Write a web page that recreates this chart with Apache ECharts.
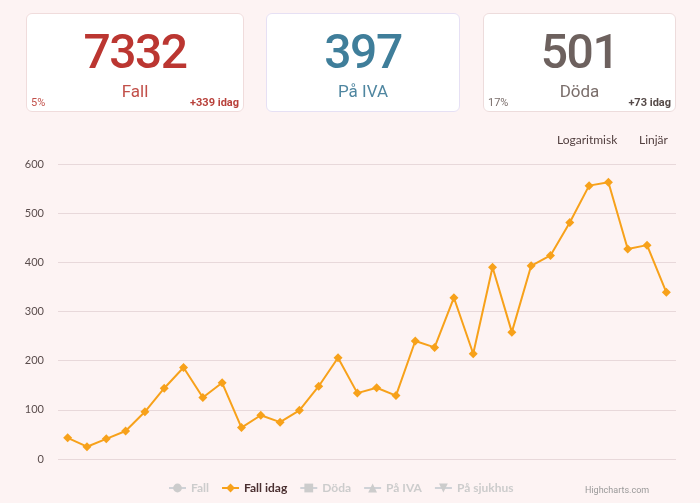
<!DOCTYPE html>
<html>
<head>
<meta charset="utf-8">
<script src="https://cdn.jsdelivr.net/npm/echarts@6/dist/echarts.min.js"></script>
<style>
  html, body { margin: 0; padding: 0; background: #fdf3f3; }
  body { width: 700px; height: 503px; position: relative; overflow: hidden; font-family: Roboto, "Noto Sans", sans-serif; }
  #chart { position: absolute; left: 0; top: 0; width: 700px; height: 503px; }
  .card { position: absolute; top: 13px; height: 99px; background: #fff; border: 1px solid #f0dede; border-radius: 6px; box-sizing: border-box; }
  .card .value { position: absolute; left: 0; right: 0; top: 10px; text-align: center; font-size: 48px; font-weight: 500; line-height: 56px; letter-spacing: -1.5px; }
  .card .label { position: absolute; left: 0; right: 0; top: 67px; text-align: center; font-size: 17px; line-height: 20px; }
  .card .pct { position: absolute; left: 4px; bottom: 2px; font-size: 11px; }
  .card .today { position: absolute; right: 4px; bottom: 2px; font-size: 11px; font-weight: bold; }
  .btn { position: absolute; top: 132px; font-size: 12px; font-family: Lato, "Open Sans", sans-serif; color: #523f3f; }
</style>
</head>
<body>
<div id="chart"></div>
<div id="cards"></div>
<span class="btn" style="left:557px">Logaritmisk</span>
<span class="btn" style="left:639px">Linjär</span>
<script>
const dates = [
  "03-10", "03-11", "03-12", "03-13", "03-14", "03-15", "03-16", "03-17",
  "03-18", "03-19", "03-20", "03-21", "03-22", "03-23", "03-24", "03-25",
  "03-26", "03-27", "03-28", "03-29", "03-30", "03-31", "04-01", "04-02",
  "04-03", "04-04", "04-05", "04-06", "04-07", "04-08", "04-09", "04-10",
];
const fallIdag = [
  43, 25, 41, 57, 96, 144, 186, 125, 155, 64, 89, 75, 99, 148, 206, 134,
  145, 129, 240, 227, 328, 214, 390, 258, 393, 414, 481, 556, 563, 427, 435, 339,
];
const yTicks = [0, 100, 200, 300, 400, 500, 600];
const legendNames = ["Fall", "Fall idag", "Döda", "På IVA", "På sjukhus"];
const legendSymbols = ["circle", "diamond", "rect", "triangle", "path://M0,0L10,0L5,10Z"];

const cards = [
  { left: 26, width: 218, value: "7332", label: "Fall", pct: "5%", today: "+339 idag",
    color: "#bb3631", labelColor: "#c2504a", pctColor: "#c2504a", todayColor: "#b8403a", border: "#f0dcdc" },
  { left: 266, width: 194, value: "397", label: "På IVA", pct: "", today: "",
    color: "#3f7e9a", labelColor: "#4f86a0", pctColor: "#4f86a0", todayColor: "#4f86a0", border: "#e6e0f4" },
  { left: 483, width: 193, value: "501", label: "Döda", pct: "17%", today: "+73 idag",
    color: "#6d615e", labelColor: "#7a6e6b", pctColor: "#7a6e6b", todayColor: "#554a48", border: "#eddcdc" },
];

const cardsEl = document.getElementById("cards");
cards.forEach((c) => {
  const el = document.createElement("div");
  el.className = "card";
  el.style.left = c.left + "px";
  el.style.width = c.width + "px";
  el.style.borderColor = c.border;
  el.innerHTML = `
    <div class="value" style="color:${c.color}">${c.value}</div>
    <div class="label" style="color:${c.labelColor}">${c.label}</div>
    <div class="pct" style="color:${c.pctColor}">${c.pct}</div>
    <div class="today" style="color:${c.todayColor}">${c.today}</div>
  `;
  cardsEl.appendChild(el);
});

const chart = echarts.init(document.getElementById("chart"));

const series = legendNames.map((name, i) => ({
  name,
  type: "line",
  symbol: legendSymbols[i],
  symbolSize: 9,
  data: name === "Fall idag" ? fallIdag : [],
  itemStyle: { color: name === "Fall idag" ? "#f7a11a" : "#7cb5ec" },
  lineStyle: { width: 2, color: name === "Fall idag" ? "#f7a11a" : "#7cb5ec" },
  animation: false,
}));

const selected = {};
legendNames.forEach((n) => { selected[n] = n === "Fall idag"; });

chart.setOption({
  backgroundColor: "transparent",
  animation: false,
  grid: { top: 164, left: 58, right: 24, bottom: 44 },
  xAxis: {
    type: "category",
    data: dates,
    boundaryGap: true,
    axisLine: { show: false },
    axisTick: { show: false },
    axisLabel: { show: false },
  },
  yAxis: {
    type: "value",
    min: yTicks[0],
    max: yTicks[yTicks.length - 1],
    interval: 100,
    axisLabel: { color: "#5a4c4c", fontSize: 11, margin: 14, fontFamily: "Lato, Roboto, sans-serif" },
    splitLine: { lineStyle: { color: "#e8d8da", width: 1 } },
  },
  legend: {
    data: legendNames,
    selected,
    top: 477,
    left: 163,
    itemWidth: 17,
    itemHeight: 11,
    itemGap: 12,
    inactiveColor: "#cccccc",
    textStyle: { color: "#4a2f30", fontWeight: "bold", fontSize: 12, fontFamily: "Lato, Roboto, sans-serif" },
  },
  graphic: [{
    type: "text",
    left: 585,
    top: 486,
    style: { text: "Highcharts.com", fill: "#999", fontSize: 9, fontFamily: "Roboto, sans-serif" },
  }],
  series,
});
</script>
</body>
</html>
